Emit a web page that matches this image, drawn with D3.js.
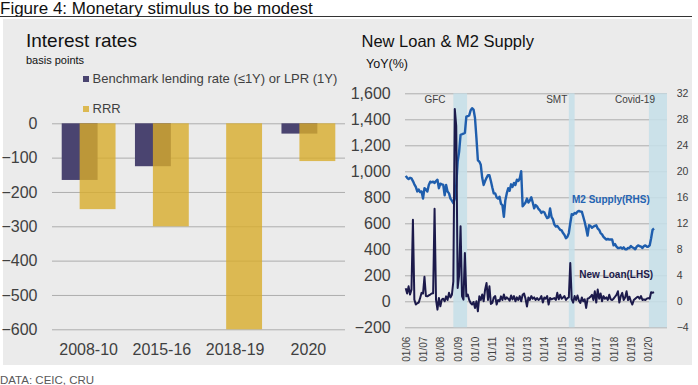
<!DOCTYPE html>
<html>
<head>
<meta charset="utf-8">
<script src="https://d3js.org/d3.v7.min.js"></script>
<style>
  body { margin: 0; background: #fff; }
  svg { display: block; font-family: Arial, "Liberation Sans", sans-serif; }
</style>
</head>
<body>
<div id="chart"></div>
<script>
// ---- data ----
var periods = ["2008-10", "2015-16", "2018-19", "2020"];
var lendingCut = [-165, -125, 0, -30];   // Benchmark lending rate / LPR, bp
var rrrCut = [-250, -300, -600, -110];   // RRR, bp

var monthLabels = ["01/06","01/07","01/08","01/09","01/10","01/11","01/12","01/13",
                   "01/14","01/15","01/16","01/17","01/18","01/19","01/20"];

// monthly from Jan 2006, M2 YoY % (right axis)
var m2Yoy = [
  19.3, 19.0, 18.8, 19.0, 18.9, 18.5, 18.0, 17.6, 16.9, 17.2, 16.8, 16.9,
  15.8, 17.4, 17.2, 16.9, 17.9, 18.4, 18.3, 18.4, 18.2, 18.5, 18.7, 17.4,
  18.1, 18.0, 17.9, 16.3, 17.9, 16.9, 16.6, 15.8, 15.5, 15.1, 15.8, 17.8,
  21.5, 23.0, 25.6, 25.7, 25.8, 25.9, 28.4, 28.5, 28.6, 29.4, 29.7, 29.5,
  28.2, 25.1, 21.7, 21.5, 21.0, 19.0, 17.9, 18.5, 19.0, 19.4, 19.4, 18.5,
  17.5, 16.6, 16.6, 16.0, 15.8, 16.1, 15.0, 14.8, 13.0, 15.5, 16.6, 17.4,
  17.0, 18.0, 17.6, 18.2, 17.9, 18.7, 18.5, 18.9, 20.0, 14.6, 14.9, 15.2,
  15.8, 15.2, 15.5, 16.0, 15.2, 14.3, 14.8, 14.6, 14.2, 14.0, 13.6, 13.8,
  13.7, 13.2, 12.8, 12.9, 14.3, 13.0, 12.6, 11.8, 11.5, 11.6, 11.3, 11.0,
  10.9, 10.5, 10.2, 9.7, 9.9, 10.5, 12.0, 13.4, 13.3, 13.6, 13.5, 13.8,
  13.9, 13.8, 13.8, 13.0, 12.2, 11.2, 10.1, 11.7, 11.6, 11.3, 11.5, 11.6,
  11.7, 11.2, 11.0, 10.5, 10.3, 9.9, 9.7, 9.5, 9.6, 9.5, 9.5, 9.5,
  8.6, 8.8, 8.4, 8.2, 8.2, 8.3, 8.1, 8.3, 8.0, 8.0, 8.2, 8.2,
  8.5, 8.3, 8.2, 8.0, 8.4, 8.6, 8.5, 8.4, 8.2, 8.5, 8.6, 8.4,
  8.4, 8.6, 9.7, 11.0, 11.2
];

// monthly from Jan 2006, new loan YoY % (left axis)
var newLoanYoy = [
  100, 60, 115, 52, 90, 628, 13, -25, -15, -10, 26, 65,
  60, 188, 40, 38, 45, 52, 60, 62, 711, 13, -64, 26,
  -38, 13, 20, 0, 38, 10, 65, 30, 50, 154, 1480, 1350,
  103, 200, 577, 40, 13, 372, 38, 52, 10, -13, -25, -5,
  -51, 0, -77, 38, 10, 52, 0, 90, 141, 10, 115, -20,
  -13, 30, 40, -25, 10, 0, 38, 10, 52, 15, 30, 20,
  5, 45, 15, 40, 0, 30, 10, 40, 0, 50, 60, 20,
  -40, 30, 10, 40, 20, 30, 10, 25, 10, 20, 40, -10,
  30, 20, 40, -25, 25, 15, 20, 25, 10, 65, 15, 50,
  20, 30, 40, 10, 25, 30, 295, 15, -10, 40, 10, 45,
  5, -13, 30, 0, 15, -51, 20, 25, 35, 50, 10, 77,
  -10, 90, 20, 60, 0, 40, 20, 30, 10, 50, 15, 10,
  20, 35, 50, 77, -10, 40, 65, 10, 30, 77, 10, 35,
  0, -25, 10, 20, 30, 35, 20, 40, 10, 15, 10, 20,
  25, 20, 70, 65, 70
];

// shaded episodes, in months since Jan 2006
var eventNames = ["GFC", "SMT", "Covid-19"];
var eventStart = [33, 113, 168.5];
var eventEnd = [42.5, 117, 181];

// ---- layout ----
var W = 698, H = 385;
var svg = d3.select("#chart").append("svg")
  .attr("width", W).attr("height", H);

var txt = "#404040", grid = "#adadad";
var purple = "#4a4470", gold = "#d8ad2c";

// title + rule
svg.append("text").attr("x", 0).attr("y", 14)
  .style("font-size", "17px").attr("fill", "#111")
  .text("Figure 4: Monetary stimulus to be modest");
svg.append("line").attr("x1", 0).attr("x2", 692).attr("y1", 16.5).attr("y2", 16.5)
  .attr("stroke", "#333").attr("stroke-width", 1);

// panel background
svg.append("rect").attr("x", 3).attr("y", 19).attr("width", 689).attr("height", 346)
  .attr("fill", "#ebebeb");

svg.append("text").attr("x", 0).attr("y", 384)
  .style("font-size", "11.5px").attr("fill", "#595959")
  .text("DATA: CEIC, CRU");

// ================= left: interest rates =================
var xL = d3.scaleBand().domain(periods).range([52, 345]);
var yL = d3.scaleLinear().domain([-600, 0]).range([329.3, 123.3]);

svg.append("text").attr("x", 26).attr("y", 46.7)
  .style("font-size", "19px").attr("fill", "#111").text("Interest rates");
svg.append("text").attr("x", 26).attr("y", 64)
  .style("font-size", "11px").attr("fill", "#111").text("basis points");

var gyL = svg.append("g").attr("transform", "translate(52,0)")
  .call(d3.axisLeft(yL).tickValues(d3.range(-600, 1, 100))
    .tickSize(-(345 - 52)).tickPadding(14.5));
gyL.select(".domain").remove();
gyL.selectAll("line").attr("stroke", grid);
gyL.selectAll("text").style("font-size", "16px").attr("fill", txt)
  .attr("font-family", null);

var gxL = svg.append("g").attr("transform", "translate(0,329.3)")
  .call(d3.axisBottom(xL).tickSize(0).tickPadding(14.3));
gxL.select(".domain").remove();
gxL.selectAll("text").style("font-size", "16px").attr("fill", txt)
  .attr("font-family", null);

var barW = xL.bandwidth() * 0.49;
svg.append("g").selectAll("rect").data(periods).enter().append("rect")
  .attr("x", function(d) { return xL(d) + xL.bandwidth() / 2 - barW * 0.75; })
  .attr("width", barW)
  .attr("y", yL(0))
  .attr("height", function(d, i) { return yL(lendingCut[i]) - yL(0); })
  .attr("fill", purple);
svg.append("g").selectAll("rect").data(periods).enter().append("rect")
  .attr("x", function(d) { return xL(d) + xL.bandwidth() / 2 - barW * 0.25; })
  .attr("width", barW)
  .attr("y", yL(0))
  .attr("height", function(d, i) { return yL(rrrCut[i]) - yL(0); })
  .attr("fill", gold).attr("fill-opacity", 0.8);

// legend
var legend = [{name: "Benchmark lending rate (\u22641Y) or LPR (1Y)", c: purple, o: 1},
              {name: "RRR", c: gold, o: 0.8}];
var lg = svg.append("g").selectAll("g").data(legend).enter().append("g")
  .attr("transform", function(d, i) { return "translate(83," + (76 + i * 30) + ")"; });
lg.append("rect").attr("width", 6).attr("height", 6)
  .attr("fill", function(d) { return d.c; }).attr("fill-opacity", function(d) { return d.o; });
lg.append("text").attr("x", 9.5).attr("y", 7.3)
  .style("font-size", "13px").attr("fill", txt)
  .text(function(d) { return d.name; });

// ================= right: new loan & M2 =================
var x0 = 405.7, x1 = 667;
var xR = d3.scaleLinear().domain([0, 181]).range([x0, x1]);
var yLoan = d3.scaleLinear().domain([-200, 1600]).range([327.3, 93.3]);
var yM2 = d3.scaleLinear().domain([-4, 32]).range([327.3, 93.3]);

svg.append("text").attr("x", 361.5).attr("y", 47)
  .style("font-size", "16.5px").attr("fill", "#111").text("New Loan & M2 Supply");
svg.append("text").attr("x", 366).attr("y", 68)
  .style("font-size", "12.5px").attr("fill", "#111").text("YoY(%)");

var gyR = svg.append("g").attr("transform", "translate(405,0)")
  .call(d3.axisLeft(yLoan).tickValues(d3.range(-200, 1601, 200))
    .tickSize(-(x1 - 405)).tickPadding(14.3).tickFormat(d3.format(",")));
gyR.select(".domain").remove();
gyR.selectAll("line").attr("stroke", grid);
gyR.selectAll("text").style("font-size", "16px").attr("fill", txt)
  .attr("font-family", null);

var gyR2 = svg.append("g").attr("transform", "translate(" + x1 + ",0)")
  .call(d3.axisRight(yM2).tickValues(d3.range(-4, 33, 4)).tickSize(0).tickPadding(9.7));
gyR2.select(".domain").remove();
gyR2.selectAll("text").style("font-size", "10.5px").attr("fill", txt)
  .attr("font-family", null);

// shaded bands
svg.append("g").selectAll("rect").data(eventNames).enter().append("rect")
  .attr("x", function(d, i) { return xR(eventStart[i]); })
  .attr("width", function(d, i) { return xR(eventEnd[i]) - xR(eventStart[i]); })
  .attr("y", yLoan(1600))
  .attr("height", yLoan(-200) - yLoan(1600))
  .attr("fill", "#c6dfe9").attr("fill-opacity", 0.85);

// band labels sit left of / on each band
var labelAt = [20.3, 104.6, 158.8];
svg.append("g").selectAll("text").data(eventNames).enter().append("text")
  .attr("x", function(d, i) { return xR(labelAt[i]); })
  .attr("y", 103.3)
  .attr("text-anchor", "middle")
  .style("font-size", "10px").attr("fill", txt)
  .text(function(d) { return d; });

// x axis (rotated month labels)
var gxR = svg.append("g").attr("transform", "translate(0,327.3)")
  .call(d3.axisBottom(xR).tickValues(d3.range(0, 169, 12)).tickSize(0)
    .tickFormat(function(d, i) { return monthLabels[i]; }));
gxR.select(".domain").remove();
gxR.selectAll("text")
  .attr("transform", "rotate(-90)")
  .attr("text-anchor", "end")
  .attr("x", -9.4).attr("y", 0).attr("dy", "0.35em")
  .style("font-size", "10px").attr("fill", txt)
  .attr("font-family", null);

var m2Line = d3.line()
  .x(function(d, i) { return xR(i); })
  .y(function(d) { return yM2(d); });
var loanLine = d3.line()
  .x(function(d, i) { return xR(i); })
  .y(function(d) { return yLoan(d); });

svg.append("path").datum(m2Yoy)
  .attr("d", m2Line).attr("fill", "none")
  .attr("stroke", "#1f5ead").attr("stroke-width", 2.4)
  .attr("stroke-linejoin", "round");
svg.append("path").datum(newLoanYoy)
  .attr("d", loanLine).attr("fill", "none")
  .attr("stroke", "#1c1a4b").attr("stroke-width", 2)
  .attr("stroke-linejoin", "round");

svg.append("text").attr("x", 572).attr("y", 202.7)
  .style("font-size", "10px").style("font-weight", "bold")
  .attr("fill", "#2463b2").text("M2 Supply(RHS)");
svg.append("text").attr("x", 579.3).attr("y", 278.3)
  .style("font-size", "10px").style("font-weight", "bold")
  .attr("fill", "#1c1a4b").text("New Loan(LHS)");
</script>
</body>
</html>
